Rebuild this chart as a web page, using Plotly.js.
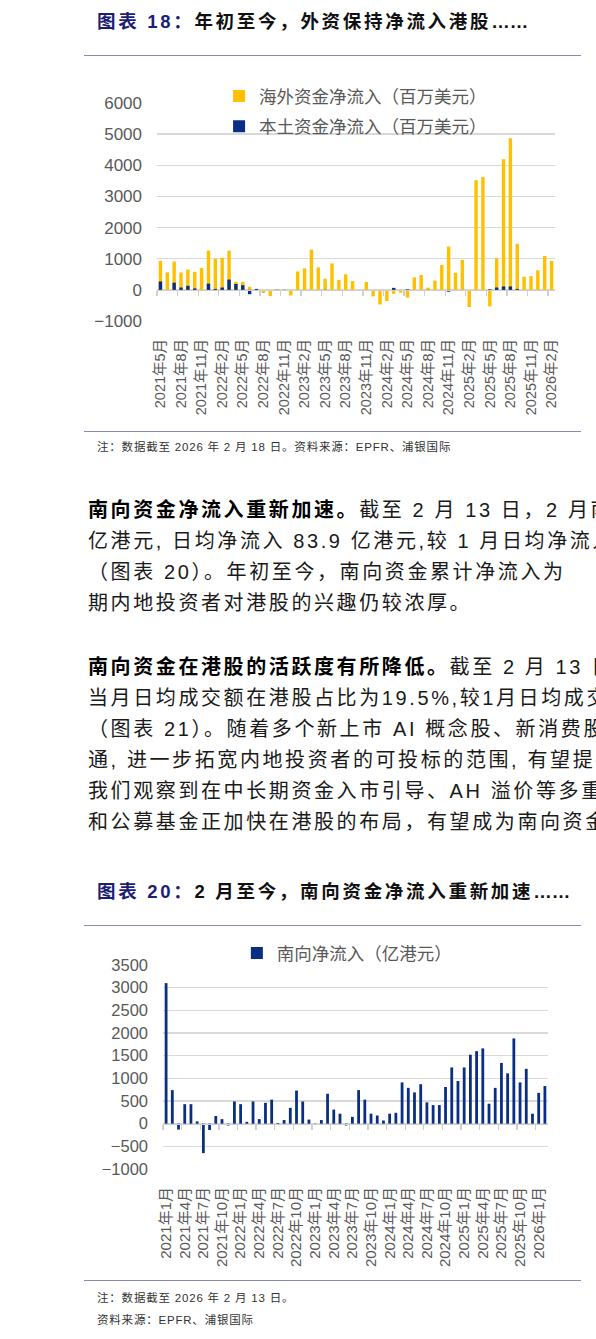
<!DOCTYPE html>
<html>
<head>
<meta charset="utf-8">
<script src="https://cdn.plot.ly/plotly-3.0.1.min.js"></script>
<style>
  body { margin: 0; width: 596px; height: 1339px; overflow: hidden; background: #fff; position: relative;
         font-family: "Noto Sans CJK SC", sans-serif; }
  .ttl { position: absolute; left: 97px; font-size: 18.5px; line-height: 24px; font-weight: bold;
         letter-spacing: 2.7px; white-space: nowrap; color: #111;
         font-family: "Liberation Sans", "Noto Sans CJK SC", sans-serif; }
  .ttl span { color: #1d1d73; }
  .ttl i { font-style: normal; letter-spacing: 0; }
  .rule { position: absolute; left: 84px; width: 497px; height: 0; border-top: 1.5px solid #8a88b8; }
  .note { position: absolute; left: 97px; font-size: 11.5px; line-height: 16px; letter-spacing: 0.8px;
          color: #333; white-space: nowrap; font-family: "Liberation Sans", "Noto Sans CJK SC", sans-serif; }
  .para { position: absolute; left: 88px; font-size: 20px; line-height: 31px; letter-spacing: 2.6px;
          white-space: nowrap; color: #1a1a1a; font-family: "Liberation Sans", "Noto Sans CJK SC", sans-serif; }
  .para b { color: #000; }
  .chart { position: absolute; left: 0; width: 596px; }
</style>
</head>
<body>
<div class="ttl" style="top:10px"><span>图表 18：</span>年初至今，外资保持净流入港股<i>……</i></div>
<div class="rule" style="top:55px"></div>
<div id="chart1" class="chart" style="top:60px;height:370px"></div>
<div class="rule" style="top:431px"></div>
<div class="note" style="top:439px">注：数据截至 2026 年 2 月 18 日。资料来源：EPFR、浦银国际</div>

<div class="para" style="top:495px">
<b>南向资金净流入重新加速。</b>截至 2 月 13 日，2 月南向资金净流入<br>
亿港元, 日均净流入 83.9 亿港元,较 1 月日均净流入有所回升<br>
（图表 20）。年初至今，南向资金累计净流入为<br>
期内地投资者对港股的兴趣仍较浓厚。
</div>

<div class="para" style="top:652px">
<b>南向资金在港股的活跃度有所降低。</b>截至 2 月 13 日，2 月南向<br>
当月日均成交额在港股占比为19.5%,较1月日均成交额占比<br>
（图表 21）。随着多个新上市 AI 概念股、新消费股纳入港股<br>
通, 进一步拓宽内地投资者的可投标的范围, 有望提振<br>
我们观察到在中长期资金入市引导、AH 溢价等多重因素<br>
和公募基金正加快在港股的布局，有望成为南向资金的重要来源
</div>

<div class="ttl" style="top:880px"><span>图表 20：</span>2 月至今，南向资金净流入重新加速<i>……</i></div>
<div class="rule" style="top:925px"></div>
<div id="chart2" class="chart" style="top:927px;height:353px"></div>
<div class="rule" style="top:1280px"></div>
<div class="note" style="top:1290px">注：数据截至 2026 年 2 月 13 日。</div>
<div class="note" style="top:1312px">资料来源：EPFR、浦银国际</div>

<script>
// 图表 18：海外 / 本土资金净流入港股（百万美元），2021年5月 - 2026年2月
const months1 = [
  '2021年5月', '2021年6月', '2021年7月', '2021年8月', '2021年9月', '2021年10月', '2021年11月', '2021年12月',
  '2022年1月', '2022年2月', '2022年3月', '2022年4月', '2022年5月', '2022年6月', '2022年7月', '2022年8月',
  '2022年9月', '2022年10月', '2022年11月', '2022年12月',
  '2023年1月', '2023年2月', '2023年3月', '2023年4月', '2023年5月', '2023年6月', '2023年7月', '2023年8月',
  '2023年9月', '2023年10月', '2023年11月', '2023年12月',
  '2024年1月', '2024年2月', '2024年3月', '2024年4月', '2024年5月', '2024年6月', '2024年7月', '2024年8月',
  '2024年9月', '2024年10月', '2024年11月', '2024年12月',
  '2025年1月', '2025年2月', '2025年3月', '2025年4月', '2025年5月', '2025年6月', '2025年7月', '2025年8月',
  '2025年9月', '2025年10月', '2025年11月', '2025年12月',
  '2026年1月', '2026年2月'
];
const foreignFlow = [
  930, 560, 910, 560, 650, 580, 700, 1260,
  1000, 1030, 1260, 260, 260, 100, 20, -100, -200, 20, -30, -180,
  590, 690, 1290, 720, 360, 850, 320, 500, 280, -30, 250, -210,
  -470, -360, -130, -90, -250, 400, 480, 70, 300, 800, 1390, 550,
  960, -550, 3520, 3620, -530, 1010, 4190, 4870, 1480, 420, 440, 630,
  1090, 930
];
const localFlow = [
  270, 0, 230, 75, 130, 45, 0, 200,
  30, 75, 330, 190, 150, -140, 30, 0, 0, -20, -30, 0,
  0, 0, 0, 0, -30, 0, 0, 0, 0, 0, 0, 0,
  0, 0, 64, 0, 20, 0, 0, -30, 0, 0, -60, 0,
  0, 0, 0, 0, 20, 75, 110, 110, 30, 0, 0, 0,
  0, 0
];

// 图表 20：南向净流入（亿港元），2021年1月 - 2026年2月
const months2 = [
  '2021年1月', '2021年2月', '2021年3月', '2021年4月', '2021年5月', '2021年6月', '2021年7月', '2021年8月',
  '2021年9月', '2021年10月', '2021年11月', '2021年12月',
  '2022年1月', '2022年2月', '2022年3月', '2022年4月', '2022年5月', '2022年6月', '2022年7月', '2022年8月',
  '2022年9月', '2022年10月', '2022年11月', '2022年12月',
  '2023年1月', '2023年2月', '2023年3月', '2023年4月', '2023年5月', '2023年6月', '2023年7月', '2023年8月',
  '2023年9月', '2023年10月', '2023年11月', '2023年12月',
  '2024年1月', '2024年2月', '2024年3月', '2024年4月', '2024年5月', '2024年6月', '2024年7月', '2024年8月',
  '2024年9月', '2024年10月', '2024年11月', '2024年12月',
  '2025年1月', '2025年2月', '2025年3月', '2025年4月', '2025年5月', '2025年6月', '2025年7月', '2025年8月',
  '2025年9月', '2025年10月', '2025年11月', '2025年12月',
  '2026年1月', '2026年2月'
];
const southbound = [
  3100, 740, -130, 430, 430, 50, -650, -140, 170, 100, -40, 490,
  430, 40, 490, 100, 460, 530, 15, 80, 350, 730, 490, 90,
  5, 80, 660, 310, 220, -40, 150, 740, 530, 220, 180, 70,
  220, 240, 910, 790, 690, 870, 470, 410, 410, 810, 1240, 940,
  1240, 1520, 1600, 1660, 440, 790, 1340, 1110, 1880, 910, 1210, 220,
  680, 830
];

const FONT = '"Liberation Sans", "Noto Sans CJK SC", sans-serif';
const GRID = '#d9d9d9';
const AXIS = '#cfcfcf';
const LABEL = '#595959';
const YELLOW = '#FFC000';
const NAVY = '#0A2E83';

// bottom axis carries the rotated month labels; a second axis sits on y = 0
// and draws the short tick marks between every third category
function axisPair(n, zeroPos, labelSize, standoff) {
  return {
    xaxis: {
      type: 'category', range: [-0.5, n - 0.5], tickmode: 'linear', tick0: 0, dtick: 3,
      tickangle: -90, ticks: '', showline: false, showgrid: false, zeroline: false,
      tickfont: { size: labelSize, color: LABEL }, ticklabelstandoff: standoff,
    },
    xaxis2: {
      type: 'category', overlaying: 'x', anchor: 'free', position: zeroPos, side: 'bottom',
      range: [-0.5, n - 0.5], tickmode: 'linear', tick0: 0, dtick: 3, tickson: 'boundaries',
      ticks: 'outside', ticklen: 5, tickwidth: 1.3, tickcolor: AXIS,
      showline: true, linecolor: AXIS, linewidth: 1.3, showgrid: false, showticklabels: false,
    },
  };
}

function zeroHelper(months) {
  return {
    type: 'scatter', mode: 'markers', x: months, y: months.map(() => 0), xaxis: 'x2',
    marker: { opacity: 0 }, showlegend: false, hoverinfo: 'skip',
  };
}

function legendStyle(extra) {
  return Object.assign({
    yanchor: 'middle', bgcolor: 'rgba(0,0,0,0)', font: { size: 17.5, color: LABEL },
  }, extra);
}

// ---- chart 1
const ax1 = axisPair(months1.length, 1000 / 7000, 14.5, 14);
Plotly.newPlot('chart1', [
  {
    type: 'bar', x: months1, y: foreignFlow, name: '海外资金净流入（百万美元）',
    marker: { color: YELLOW }, width: 0.5, legend: 'legend',
  },
  {
    type: 'bar', x: months1, y: localFlow, name: '本土资金净流入（百万美元）',
    marker: { color: NAVY }, width: 0.5, legend: 'legend2',
  },
  zeroHelper(months1),
], {
  width: 596, height: 370,
  margin: { l: 157, r: 41, t: 43, b: 109, autoexpand: false },
  barmode: 'overlay',
  paper_bgcolor: 'rgba(0,0,0,0)', plot_bgcolor: '#fff',
  font: { family: FONT, color: LABEL },
  xaxis: ax1.xaxis,
  xaxis2: ax1.xaxis2,
  yaxis: {
    range: [-1000, 6000], tick0: 0, dtick: 1000, gridcolor: GRID, gridwidth: 1.3,
    zeroline: false, ticks: '', tickfont: { size: 17, color: LABEL }, ticklabelstandoff: 14,
  },
  legend: legendStyle({ x: 0.156, y: 1.031, xanchor: 'left' }),
  legend2: legendStyle({ x: 0.156, y: 0.893, xanchor: 'left' }),
}, { staticPlot: true });

// ---- chart 2 (legend sits in the top margin; margins are kept fixed)
const ax2 = axisPair(months2.length, 1000 / 4500, 15, 14);
Plotly.newPlot('chart2', [
  {
    type: 'bar', x: months2, y: southbound, name: '南向净流入（亿港元）',
    marker: { color: NAVY }, width: 0.45,
  },
  zeroHelper(months2),
], {
  width: 596, height: 353,
  margin: { l: 163, r: 48, t: 38, b: 111, autoexpand: false },
  paper_bgcolor: 'rgba(0,0,0,0)', plot_bgcolor: '#fff',
  font: { family: FONT, color: LABEL },
  xaxis: ax2.xaxis,
  xaxis2: ax2.xaxis2,
  yaxis: {
    range: [-1000, 3500], tick0: 0, dtick: 500, gridcolor: GRID, gridwidth: 1.3,
    zeroline: false, ticks: '', tickfont: { size: 16.5, color: LABEL }, ticklabelstandoff: 14,
  },
  showlegend: true,
  legend: legendStyle({
    orientation: 'h', xref: 'container', yref: 'container', x: 0.582, y: 0.9263, xanchor: 'center',
  }),
}, { staticPlot: true });
</script>
</body>
</html>
